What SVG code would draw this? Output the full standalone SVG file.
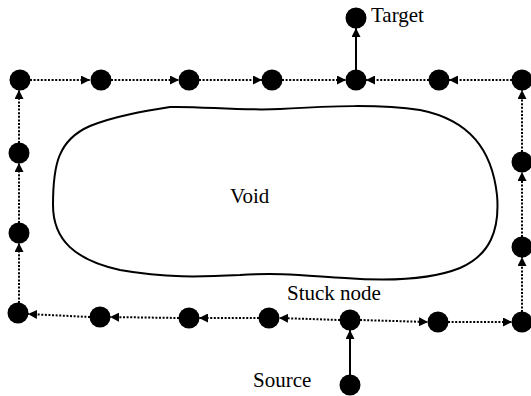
<svg xmlns="http://www.w3.org/2000/svg" width="531" height="396" viewBox="0 0 531 396">
<style>
.n{fill:#000}
.d{stroke:#000;stroke-width:2;stroke-dasharray:2 1.6;fill:none}
.s{stroke:#000;stroke-width:2;fill:none}
.t{font-family:"Liberation Serif","Times New Roman",serif;font-size:21px;fill:#000}
</style>
<defs>
<marker id="ah" viewBox="0 0 10 10" refX="10" refY="5" markerWidth="9" markerHeight="9" markerUnits="userSpaceOnUse" orient="auto">
<path d="M0,0 L10,5 L0,10 Z" fill="#000"/>
</marker>
</defs>
<rect width="531" height="396" fill="#fff"/>
<g id="void">
<path class="s" d="M 53,205 C 53,165 58,140 90,126 C 115,116 145,111 170,107 C 200,106 240,111 280,109 C 330,106 380,104 420,110 C 470,120 492,150 497,195 C 500,230 490,255 460,268 C 430,280 385,281 345,278 C 310,276 280,272 240,275 C 200,277 165,278 120,270 C 75,260 53,240 53,205 Z"/>
<text class="t" x="230" y="203">Void</text>
</g>
<g id="connectors">
<path class="d" d="M30,80 H90" marker-end="url(#ah)"/>
<path class="d" d="M111,80 H179" marker-end="url(#ah)"/>
<path class="d" d="M199,80 H262" marker-end="url(#ah)"/>
<path class="d" d="M282,80 H346" marker-end="url(#ah)"/>
<path class="d" d="M429,80 H366" marker-end="url(#ah)"/>
<path class="d" d="M512,80 H449" marker-end="url(#ah)"/>
<path class="d" d="M522,312 V257" marker-end="url(#ah)"/>
<path class="d" d="M522,237 V172" marker-end="url(#ah)"/>
<path class="d" d="M522,152 V90" marker-end="url(#ah)"/>
<path class="d" d="M360,320 L428,322" marker-end="url(#ah)"/>
<path class="d" d="M448,322 H512" marker-end="url(#ah)"/>
<path class="d" d="M340,320 L279,318" marker-end="url(#ah)"/>
<path class="d" d="M259,318 H199" marker-end="url(#ah)"/>
<path class="d" d="M179,318 L110,317" marker-end="url(#ah)"/>
<path class="d" d="M90,317 L28,314" marker-end="url(#ah)"/>
<path class="d" d="M19,303 V243" marker-end="url(#ah)"/>
<path class="d" d="M19,223 V163" marker-end="url(#ah)"/>
<path class="d" d="M19,143 V90" marker-end="url(#ah)"/>
<path class="s" d="M356,70 V28" marker-end="url(#ah)"/>
<path class="s" d="M350,375 V330" marker-end="url(#ah)"/>
</g>
<g id="target"><circle class="n" cx="356" cy="18" r="10.5"/><text class="t" x="371" y="22">Target</text></g>
<g id="t1"><circle class="n" cx="20" cy="80" r="10.5"/></g>
<g id="t2"><circle class="n" cx="101" cy="80" r="10.5"/></g>
<g id="t3"><circle class="n" cx="189" cy="80" r="10.5"/></g>
<g id="t4"><circle class="n" cx="272" cy="80" r="10.5"/></g>
<g id="t5"><circle class="n" cx="356" cy="80" r="10.5"/></g>
<g id="t6"><circle class="n" cx="439" cy="80" r="10.5"/></g>
<g id="t7"><circle class="n" cx="522" cy="80" r="10.5"/></g>
<g id="r1"><circle class="n" cx="522" cy="162" r="10.5"/></g>
<g id="r2"><circle class="n" cx="522" cy="247" r="10.5"/></g>
<g id="b7"><circle class="n" cx="522" cy="322" r="10.5"/></g>
<g id="b6"><circle class="n" cx="438" cy="322" r="10.5"/></g>
<g id="stuck"><circle class="n" cx="350" cy="320" r="10.5"/><text class="t" x="287" y="300">Stuck node</text></g>
<g id="b4"><circle class="n" cx="269" cy="318" r="10.5"/></g>
<g id="b3"><circle class="n" cx="189" cy="318" r="10.5"/></g>
<g id="b2"><circle class="n" cx="100" cy="317" r="10.5"/></g>
<g id="b1"><circle class="n" cx="18" cy="313" r="10.5"/></g>
<g id="l2"><circle class="n" cx="19" cy="233" r="10.5"/></g>
<g id="l1"><circle class="n" cx="19" cy="153" r="10.5"/></g>
<g id="source"><circle class="n" cx="350" cy="385" r="10.5"/><text class="t" x="253" y="387">Source</text></g>
</svg>
